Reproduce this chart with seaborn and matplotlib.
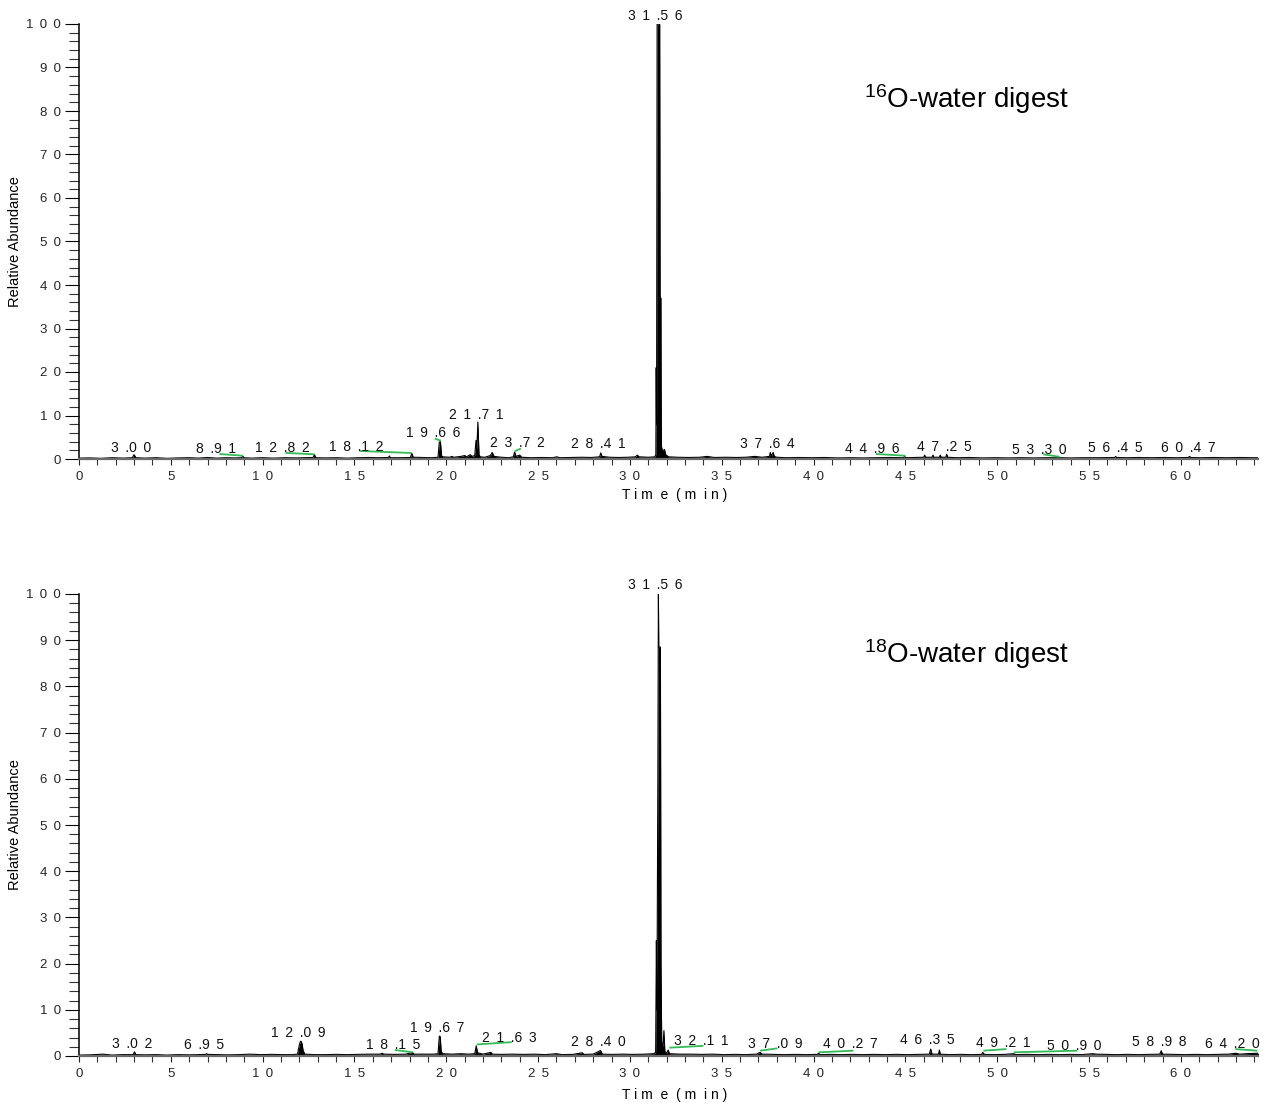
import matplotlib
matplotlib.use("Agg")
import matplotlib.pyplot as plt
import seaborn as sns
import numpy as np
from matplotlib.ticker import MultipleLocator, FixedLocator, FixedFormatter

# ---------------- data ----------------
top_time = [0.0, 0.6, 1.2, 1.8, 2.4, 2.9, 3.0, 3.1, 3.6, 4.2, 4.8, 5.4, 6.0, 6.5, 7.0, 7.5,
            8.0, 8.5, 8.85, 8.91, 8.97, 9.4, 10.0, 10.6, 11.2, 11.8, 12.3, 12.75, 12.82, 12.9,
            13.4, 14.0, 14.6, 15.2, 15.8, 16.3, 16.85, 16.9, 16.95, 17.5, 18.05, 18.12, 18.2,
            18.7, 19.2, 19.55, 19.62, 19.68, 19.74, 19.8, 20.2, 20.3, 20.4, 20.8, 21.0, 21.1,
            21.3, 21.4, 21.55, 21.62, 21.66, 21.72, 21.78, 21.85, 22.1, 22.4, 22.5, 22.6, 23.0,
            23.4, 23.65, 23.72, 23.8, 24.0, 24.1, 24.6, 25.2, 25.8, 26.0, 26.2, 26.8, 27.4, 27.9,
            28.35, 28.41, 28.48, 28.9, 29.4, 29.9, 30.3, 30.4, 30.5, 31.0, 31.35, 31.41, 31.43,
            31.45, 31.48, 31.62, 31.65, 31.68, 31.71, 31.76, 31.82, 31.88, 31.95, 32.1, 32.6,
            33.2, 33.8, 34.2, 34.6, 35.2, 35.8, 36.3, 36.8, 37.2, 37.6, 37.64, 37.7, 37.8, 37.86,
            38.0, 38.5, 39.2, 39.9, 40.6, 41.3, 42.0, 42.7, 43.4, 44.1, 44.9, 44.96, 45.02, 45.6,
            46.0, 46.05, 46.1, 46.45, 46.5, 46.55, 46.85, 46.9, 46.95, 47.2, 47.25, 47.3, 47.8,
            48.5, 49.2, 49.9, 50.6, 51.3, 52.0, 52.7, 53.25, 53.30, 53.35, 54.0, 54.7, 55.4, 56.1,
            56.4, 56.45, 56.5, 57.0, 57.7, 58.4, 59.1, 59.8, 60.4, 60.47, 60.54, 61.1, 61.8, 62.5,
            63.2, 63.9, 64.3]
top_abund = [0.2, 0.25, 0.15, 0.3, 0.2, 0.3, 1.0, 0.3, 0.2, 0.3, 0.15, 0.25, 0.3, 0.2, 0.35, 0.2,
             0.3, 0.25, 0.3, 0.7, 0.3, 0.2, 0.3, 0.2, 0.3, 0.25, 0.3, 0.35, 1.0, 0.3,
             0.25, 0.3, 0.2, 0.3, 0.35, 0.3, 0.35, 0.7, 0.3, 0.3, 0.35, 1.3, 0.4,
             0.35, 0.3, 0.4, 3.9, 4.0, 0.8, 0.5, 0.4, 0.6, 0.4, 0.6, 0.8, 0.5,
             1.0, 0.6, 0.8, 4.3, 2.0, 8.5, 1.0, 0.5, 0.4, 0.8, 1.5, 0.6, 0.4,
             0.3, 0.5, 1.6, 0.6, 0.9, 0.4, 0.3, 0.35, 0.3, 0.5, 0.3, 0.35, 0.4, 0.35,
             0.5, 1.4, 0.6, 0.4, 0.35, 0.4, 0.5, 0.9, 0.5, 0.4, 0.5, 1.0, 21.0,
             8.0, 100.0, 100.0, 10.0, 37.0, 3.0, 2.0, 2.0, 2.2, 1.0, 0.5, 0.4,
             0.35, 0.4, 0.6, 0.35, 0.4, 0.35, 0.4, 0.6, 0.4, 0.6, 1.5, 0.7, 1.5, 0.6,
             0.4, 0.3, 0.35, 0.3, 0.35, 0.25, 0.3, 0.25, 0.3, 0.35, 0.3, 0.6, 0.3, 0.35,
             0.4, 0.9, 0.4, 0.4, 0.9, 0.4, 0.4, 0.9, 0.4, 0.4, 1.1, 0.4, 0.3,
             0.35, 0.25, 0.3, 0.25, 0.3, 0.25, 0.3, 0.3, 0.5, 0.3, 0.25, 0.3, 0.3, 0.35,
             0.35, 0.6, 0.35, 0.3, 0.35, 0.3, 0.35, 0.3, 0.35, 0.6, 0.35, 0.3, 0.35, 0.3,
             0.35, 0.3, 0.3]

bot_time = [0.0, 0.6, 1.3, 1.8, 2.4, 2.95, 3.02, 3.1, 3.6, 4.2, 4.8, 5.4, 6.0, 6.5, 6.9, 6.95,
            7.0, 7.5, 8.1, 8.7, 9.3, 9.9, 10.5, 11.1, 11.6, 11.9, 11.95, 12.0, 12.05, 12.09,
            12.15, 12.2, 12.3, 12.8, 13.4, 14.0, 14.6, 15.2, 15.8, 16.4, 16.5, 16.6, 17.2, 17.8,
            18.15, 18.25, 18.8, 19.3, 19.55, 19.62, 19.67, 19.72, 19.8, 20.3, 20.8, 21.2, 21.55,
            21.63, 21.7, 22.0, 22.43, 22.5, 23.0, 23.6, 24.2, 24.8, 25.4, 26.0, 26.3, 26.9, 27.4,
            27.5, 28.0, 28.4, 28.5, 29.0, 29.6, 30.2, 30.8, 31.3, 31.40, 31.44, 31.47, 31.52,
            31.55, 31.57, 31.66, 31.69, 31.73, 31.80, 31.85, 31.9, 32.0, 32.08, 32.15, 32.7, 33.3,
            33.9, 34.5, 35.1, 35.7, 36.3, 36.9, 37.09, 37.2, 37.8, 38.4, 39.0, 39.6, 40.2, 40.27,
            40.35, 40.9, 41.5, 42.1, 42.7, 43.3, 43.9, 44.5, 45.1, 45.7, 46.3, 46.38, 46.45, 46.8,
            46.85, 46.9, 47.4, 48.0, 48.6, 49.15, 49.21, 49.3, 49.8, 50.4, 50.9, 51.0, 51.6, 52.2,
            52.8, 53.4, 54.0, 54.6, 55.2, 55.4, 55.9, 56.5, 57.1, 57.7, 58.3, 58.85, 58.93, 59.0,
            59.6, 60.2, 60.8, 61.4, 62.0, 62.6, 63.0, 63.2, 63.6, 64.2, 64.3]
bot_abund = [0.2, 0.25, 0.4, 0.2, 0.3, 0.3, 0.9, 0.3, 0.25, 0.3, 0.2, 0.3, 0.25, 0.3, 0.35, 0.5,
             0.35, 0.3, 0.25, 0.3, 0.4, 0.3, 0.35, 0.3, 0.3, 0.4, 1.5, 2.4, 3.1, 3.2,
             2.6, 1.2, 0.4, 0.3, 0.3, 0.35, 0.3, 0.35, 0.4, 0.4, 0.6, 0.4, 0.35, 0.4,
             0.8, 0.4, 0.4, 0.4, 0.5, 4.3, 4.2, 1.0, 0.5, 0.4, 0.5, 0.4, 0.5,
             2.2, 0.7, 0.4, 0.8, 0.4, 0.35, 0.4, 0.35, 0.4, 0.3, 0.5, 0.3, 0.35, 0.7,
             0.35, 0.4, 1.2, 0.4, 0.35, 0.4, 0.35, 0.4, 0.5, 0.8, 25.0, 10.0, 60.0,
             100.0, 88.5, 88.5, 20.0, 3.0, 2.0, 5.5, 1.0, 0.6, 1.3, 0.5, 0.4, 0.4,
             0.35, 0.4, 0.3, 0.35, 0.3, 0.4, 0.8, 0.4, 0.35, 0.3, 0.35, 0.3, 0.35, 0.6,
             0.3, 0.35, 0.3, 0.35, 0.3, 0.35, 0.3, 0.35, 0.3, 0.35, 0.4, 1.5, 0.4, 0.4,
             1.3, 0.4, 0.3, 0.35, 0.3, 0.35, 0.8, 0.35, 0.3, 0.35, 0.5, 0.3, 0.35, 0.3,
             0.35, 0.3, 0.35, 0.3, 0.5, 0.4, 0.35, 0.3, 0.35, 0.3, 0.35, 0.4, 1.15, 0.4,
             0.35, 0.3, 0.35, 0.3, 0.35, 0.4, 0.6, 0.4, 0.5, 0.6, 0.4]

top_labels = ["3.00", "8.91", "12.82", "18.12", "19.66", "21.71", "23.72", "28.41", "31.56",
              "37.64", "44.96", "47.25", "53.30", "56.45", "60.47"]
top_label_x = [2.85, 7.45, 11.1, 15.1, 19.27, 21.65, 23.9, 28.26, 31.4, 37.5, 43.2, 47.1,
               52.3, 56.45, 60.4]
top_label_y = [1.5, 1.3, 1.5, 1.9, 5.0, 9.2, 2.7, 2.5, 100.9, 2.5, 1.45, 1.9, 1.15, 1.7, 1.7]

bot_labels = ["3.02", "6.95", "12.09", "18.15", "19.67", "21.63", "28.40", "31.56", "32.11",
              "37.09", "40.27", "46.35", "49.21", "50.90", "58.98", "64.20"]
bot_label_x = [2.87, 6.79, 11.95, 17.1, 19.5, 23.44, 28.3, 31.4, 33.86, 37.9, 42.0, 46.2,
               50.35, 54.2, 58.84, 62.78]
bot_label_y = [1.8, 1.5, 4.2, 1.5, 5.3, 3.1, 2.2, 101.1, 2.4, 1.8, 1.66, 2.7, 2.0, 1.3, 2.2, 1.8]

# green label leader lines: x0, y0, x1, y1
top_lead_x0 = [7.65, 11.24, 15.28, 19.37, 23.73, 43.4, 52.5]
top_lead_y0 = [1.15, 1.4, 1.84, 4.7, 1.8, 1.15, 1.08]
top_lead_x1 = [8.93, 12.82, 18.1, 19.7, 24.06, 45.0, 53.4]
top_lead_y1 = [0.75, 1.08, 1.38, 4.2, 2.4, 0.75, 0.5]

bot_lead_x0 = [17.2, 21.66, 32.15, 37.09, 40.27, 49.25, 50.9, 62.96]
bot_lead_y0 = [1.3, 2.5, 1.8, 1.15, 0.8, 1.15, 0.8, 1.5]
bot_lead_x1 = [18.18, 23.57, 34.0, 38.03, 42.17, 50.5, 54.37, 64.17]
bot_lead_y1 = [0.8, 3.0, 2.2, 1.66, 1.15, 1.5, 1.15, 1.15]

panel_titles = [("16", "O-water digest"), ("18", "O-water digest")]
y_ticks = [0, 10, 20, 30, 40, 50, 60, 70, 80, 90, 100]
x_ticks = [0, 5, 10, 15, 20, 25, 30, 35, 40, 45, 50, 55, 60]
x_title = "T i m  e  ( m  i n )"
y_title = "Relative Abundance"

assert len(top_time) == len(top_abund)
assert len(bot_time) == len(bot_abund)

# ---------------- style ----------------
sns.set_theme(style="white")
plt.rcParams["font.family"] = ["Liberation Sans", "DejaVu Sans"]
plt.rcParams["mathtext.fontset"] = "custom"
plt.rcParams["mathtext.rm"] = "Liberation Sans"

GREEN = "#33bb55"
GAP = " \u2009"


def spaced(s):
    out = ""
    for i, ch in enumerate(s):
        out += ch
        if i < len(s) - 1 and ch != ".":
            out += GAP
    return out


W, H = 1263, 1103
fig = plt.figure(figsize=(W / 100, H / 100), dpi=100)
ax_top = fig.add_axes([79 / W, 1 - 459 / H, 1179 / W, 435 / H])
ax_bot = fig.add_axes([79 / W, 1 - 1056 / H, 1179 / W, 462 / H])

panels = [
    (ax_top, top_time, top_abund, top_labels, top_label_x, top_label_y,
     (top_lead_x0, top_lead_y0, top_lead_x1, top_lead_y1), 80.7, 435),
    (ax_bot, bot_time, bot_abund, bot_labels, bot_label_x, bot_label_y,
     (bot_lead_x0, bot_lead_y0, bot_lead_x1, bot_lead_y1), 85.0, 462),
]

for k, (ax, t, a, labs, lx, ly, leads, title_y, hpx) in enumerate(panels):
    sns.lineplot(x=t, y=a, ax=ax, color="black", linewidth=0.8, estimator=None, sort=False)
    ax.fill_between(t, a, 0, color="black", linewidth=0)
    for x0, y0, x1, y1 in zip(*leads):
        ax.plot([x0, x1], [y0, y1], color=GREEN, linewidth=1.3, solid_capstyle="butt")
    for s, x, y in zip(labs, lx, ly):
        ax.text(x, y, spaced(s), ha="center", va="baseline", fontsize=10, color="#111111",
                clip_on=False)
    sup, rest = panel_titles[k]
    ax.text(42.75, title_y, r"$\mathregular{^{%s}}$%s" % (sup, rest), fontsize=20,
            ha="left", va="baseline", color="black")

    ax.set_xlim(0, 64.2)
    ax.set_ylim(0, 100)
    for side in ["top", "right"]:
        ax.spines[side].set_visible(False)
    ax.spines["left"].set_color("black")
    ax.spines["left"].set_linewidth(1.1)
    ax.spines["bottom"].set_color("#6a6a6a")
    ax.spines["bottom"].set_linewidth(1.6)

    ax.xaxis.set_major_locator(FixedLocator(x_ticks))
    ax.xaxis.set_major_formatter(FixedFormatter([spaced(str(v)) for v in x_ticks]))
    ax.xaxis.set_minor_locator(MultipleLocator(1))
    ax.yaxis.set_major_locator(FixedLocator(y_ticks))
    ax.yaxis.set_major_formatter(FixedFormatter([spaced(str(v)) for v in y_ticks]))
    ax.yaxis.set_minor_locator(MultipleLocator(2))

    ax.tick_params(axis="y", which="major", direction="out", length=10, width=0.8,
                   color="black", pad=3, labelsize=9.5, left=True)
    ax.tick_params(axis="y", which="minor", direction="out", length=7, width=0.8,
                   color="#333333", left=True)
    ax.tick_params(axis="x", which="major", direction="out", length=4.5, width=0.8,
                   color="#222222", pad=4, labelsize=9.5, bottom=True)
    ax.tick_params(axis="x", which="minor", direction="out", length=4, width=0.8,
                   color="#333333", bottom=True)

    ax.set_ylabel(y_title, fontsize=10.5, color="black")
    ax.yaxis.set_label_coords(-57 / 1179, 0.5)
    ax.set_xlabel(x_title, fontsize=10, color="black", va="top")
    ax.xaxis.set_label_coords(0.505, -(29 if k == 0 else 31.5) / hpx)
    ax.grid(False)
    ax.set_facecolor("white")

fig.savefig("out.png", dpi=100, facecolor="white")
